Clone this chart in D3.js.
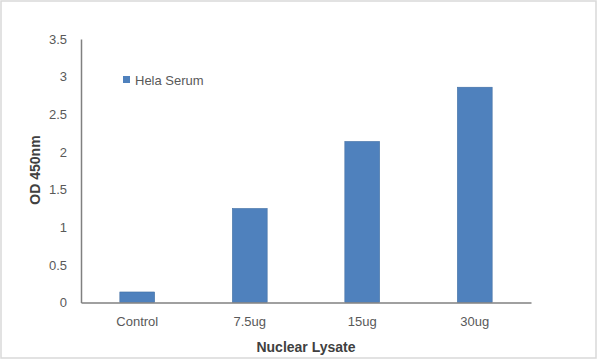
<!DOCTYPE html>
<html><head><meta charset="utf-8">
<script src="https://cdn.jsdelivr.net/npm/d3@7"></script>
<style>body{margin:0;background:#fff}svg{display:block}text{font-family:"Liberation Sans",Arial,sans-serif}</style>
</head><body>
<svg id="c" width="600" height="361"></svg>
<script>
const categories = ["Control", "7.5ug", "15ug", "30ug"];
const seriesName = "Hela Serum";
const values = [0.14, 1.25, 2.14, 2.86];
const yTicks = [0, 0.5, 1, 1.5, 2, 2.5, 3, 3.5];
const yTickLabels = ["0", "0.5", "1", "1.5", "2", "2.5", "3", "3.5"];
const xTitle = "Nuclear Lysate";
const yTitle = "OD 450nm";

(function(){
const svg = d3.select("#c");
svg.append("rect").attr("x",1).attr("y",1).attr("width",595).attr("height",357)
  .attr("fill","#fff").attr("stroke","#d9d9d9").attr("stroke-width",1.5);

const pLeft = 81, pRight = 531, pTop = 39, pBottom = 302.5;
const x = d3.scaleBand().domain(categories).range([pLeft, pRight]).paddingInner(0.69).paddingOuter(0.345);
const y = d3.scaleLinear().domain([0, 3.5]).range([pBottom, pTop]);

const barColor = "#4f81bd";
svg.append("g").selectAll("rect").data(values).join("rect")
  .attr("x", (d,i) => x(categories[i]))
  .attr("y", d => y(d))
  .attr("width", x.bandwidth())
  .attr("height", d => y(0) - y(d))
  .attr("fill", barColor).attr("stroke", "#3c6a9e").attr("stroke-width", 0.5);

const ya = svg.append("g").attr("transform", `translate(${pLeft},0)`)
  .call(d3.axisLeft(y).tickValues(yTicks).tickFormat((d,i)=>yTickLabels[i]).tickSize(0).tickPadding(14));
ya.select(".domain").attr("stroke","#808080").attr("stroke-width",1.5);
ya.selectAll("text").attr("fill","#595959").style("font-size","13px").attr("font-family","Liberation Sans, Arial, sans-serif");

const xa = svg.append("g").attr("transform", `translate(0,${pBottom})`)
  .call(d3.axisBottom(x).tickSize(0).tickPadding(14));
xa.select(".domain").attr("stroke","#808080").attr("stroke-width",1.5);
xa.selectAll("text").attr("fill","#595959").style("font-size","13px").attr("font-family","Liberation Sans, Arial, sans-serif");

svg.append("text").attr("x", 306).attr("y", 352).attr("text-anchor","middle")
  .attr("font-weight","bold").attr("font-size","14px").attr("fill","#404040").text(xTitle);
svg.append("text").attr("transform","translate(40,170) rotate(-90)").attr("text-anchor","middle")
  .attr("font-weight","bold").attr("font-size","14px").attr("fill","#404040").text(yTitle);

svg.append("rect").attr("x",123).attr("y",76).attr("width",7).attr("height",7).attr("fill",barColor);
svg.append("text").attr("x",135).attr("y",84.5).attr("font-size","13px").attr("fill","#595959").text(seriesName);
})();
</script>
</body></html>
